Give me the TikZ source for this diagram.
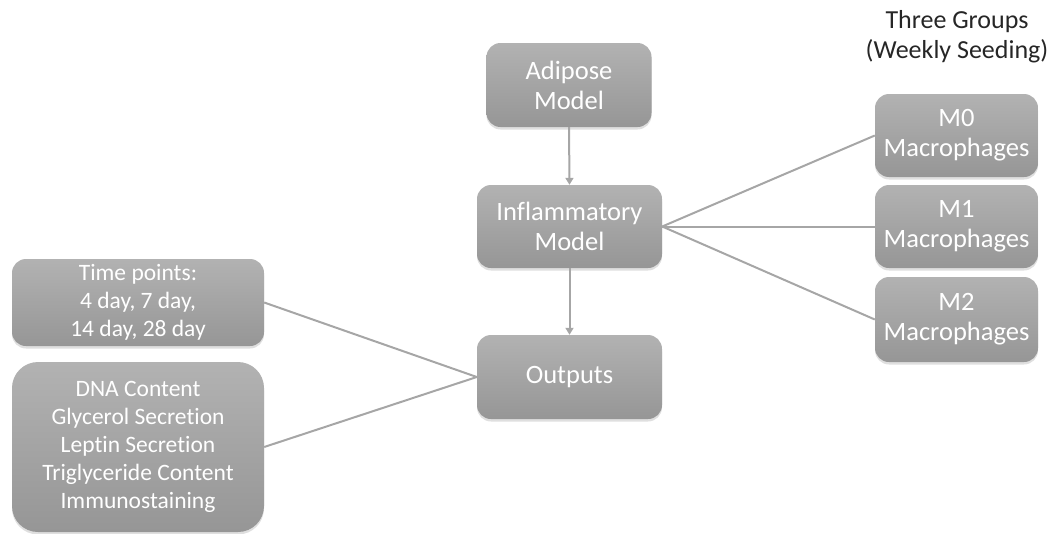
\documentclass[tikz,border=0pt]{standalone}
\usepackage{fontspec}
\setmainfont{Carlito}[Ligatures=NoCommon]
\usetikzlibrary{arrows.meta,shadows}
\definecolor{boxtop}{HTML}{B2B2B2}
\definecolor{boxbot}{HTML}{969696}
\definecolor{linkgray}{HTML}{A6A6A6}
\tikzset{
  box/.style={rectangle, rounded corners=14pt, top color=boxtop, bottom color=boxbot,
    draw=none, text=white, align=center, inner sep=0pt,
    font=\fontsize{26.5}{30}\selectfont,
    drop shadow={opacity=0.25, shadow xshift=0pt, shadow yshift=-2.5pt}},
  smallbox/.style={box, font=\fontsize{23.5}{28}\selectfont},
  link/.style={draw=linkgray, line width=2pt},
  flow/.style={link, -{Triangle[width=8pt,length=7pt]}},
}
\begin{document}
\begin{tikzpicture}[x=1pt,y=-1pt]
\useasboundingbox (0,0) rectangle (1055,533);

% central column
\node[box, minimum width=165pt, minimum height=84pt] (adipose) at (569,85) {Adipose\\Model};
\node[box, minimum width=185pt, minimum height=83pt] (inflam) at (569.5,226.5) {Inflammatory\\Model};
\node[box, minimum width=185pt, minimum height=84pt] (outputs) at (569.5,377) {Outputs};

% macrophage groups
\node[font=\fontsize{26}{30}\selectfont, align=center, text=black!85] (title) at (957,37) {Three Groups\\(Weekly Seeding)};
\node[box, minimum width=163pt, minimum height=83pt] (m0) at (956.5,135.5) {M0\\Macrophages};
\node[box, minimum width=163pt, minimum height=83pt] (m1) at (956.5,226.5) {M1\\Macrophages};
\node[box, minimum width=163pt, minimum height=85pt] (m2) at (956.5,319.5) {M2\\Macrophages};

% output descriptions
\node[smallbox, minimum width=252pt, minimum height=87pt] (times) at (138,302.5) {Time points:\\4 day, 7 day,\\14 day, 28 day};
\node[smallbox, rounded corners=26pt, minimum width=252pt, minimum height=170pt] (assays) at (138,447)
  {DNA Content\\Glycerol Secretion\\Leptin Secretion\\Triglyceride Content\\Immunostaining};

% connectors
\draw[flow] (adipose.south) -- (inflam.north);
\draw[flow] (inflam.south) -- (outputs.north);
\draw[link] (inflam.east) -- (m0.west);
\draw[link] (inflam.east) -- (m1.west);
\draw[link] (inflam.east) -- (m2.west);
\draw[link] (times.east) -- (outputs.west);
\draw[link] (assays.east) -- (outputs.west);
\end{tikzpicture}
\end{document}
